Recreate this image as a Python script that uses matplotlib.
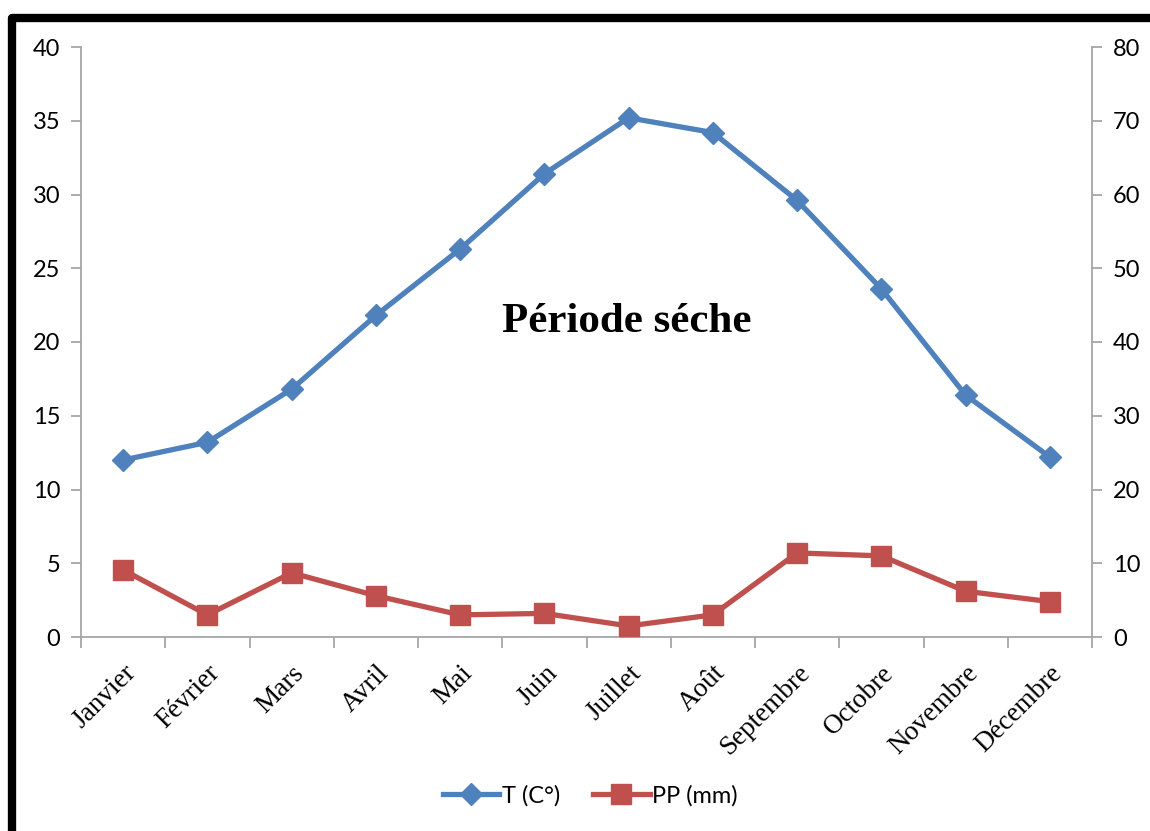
import matplotlib.pyplot as plt
import numpy as np
from matplotlib.lines import Line2D

mois = ['Janvier', 'Février', 'Mars', 'Avril', 'Mai', 'Juin', 'Juillet',
        'Août', 'Septembre', 'Octobre', 'Novembre', 'Décembre']
temp = [12.0, 13.2, 16.8, 21.8, 26.3, 31.4, 35.2, 34.2, 29.6, 23.6, 16.4, 12.2]
pluie = [9.1, 3.0, 8.7, 5.6, 3.0, 3.2, 1.5, 3.0, 11.4, 11.0, 6.2, 4.8]

blue = '#4F81BD'
red = '#C0504D'
grey = '#A6A6A6'

fig = plt.figure(figsize=(11.5, 8.31), dpi=100)
ax = fig.add_axes([81/1150, 1 - 637/831, (1092-81)/1150, (637-47)/831])
ax2 = ax.twinx()

x = np.arange(len(mois))
ax.plot(x, temp, color=blue, lw=3.8, marker='D', markersize=11, zorder=3)
ax2.plot(x, pluie, color=red, lw=3.8, marker='s', markersize=14, zorder=3)

ax.set_xlim(-0.5, 11.5)
ax.set_ylim(0, 40)
ax2.set_ylim(0, 80)
ax.set_yticks(np.arange(0, 41, 5))
ax2.set_yticks(np.arange(0, 81, 10))

# category labels between boundary ticks
ax.set_xticks(x)
ax.set_xticklabels(mois, rotation=45, ha='right', va='top', rotation_mode='anchor',
                   family='Liberation Serif', fontsize=19.5)
ax.tick_params(axis='x', length=0, pad=17)
ax.set_xticks(np.arange(-0.5, 12, 1), minor=True)
ax.tick_params(axis='x', which='minor', length=8, color=grey, width=1.3)

for a in (ax, ax2):
    for s in a.spines.values():
        s.set_visible(False)
ax.spines['left'].set_visible(True)
ax.spines['bottom'].set_visible(True)
ax2.spines['right'].set_visible(True)
for s in (ax.spines['left'], ax.spines['bottom'], ax2.spines['right']):
    s.set_color(grey)
    s.set_linewidth(1.3)

ax.tick_params(axis='y', length=7, color=grey, width=1.3, labelsize=17, pad=8)
ax2.tick_params(axis='y', length=7, color=grey, width=1.3, labelsize=17, pad=8)
for lab in ax.get_yticklabels() + ax2.get_yticklabels():
    lab.set_family('Lato')

fig.text(627/1150, 1 - 322/831, 'Période séche', family='Liberation Serif',
         fontweight='bold', fontsize=31, ha='center', va='center')

handles = [Line2D([], [], color=blue, lw=3.8, marker='D', markersize=11),
           Line2D([], [], color=red, lw=3.8, marker='s', markersize=14)]
fig.legend(handles, ['T (C°)', 'PP (mm)'], loc='center', bbox_to_anchor=(590/1150, 1 - 796/831),
           ncol=2, frameon=False, prop={'family': 'Lato', 'size': 17},
           handlelength=2.4, handletextpad=0.1, columnspacing=1.4)

# thick black frame (top and left)
frame = Line2D([12/1150, 12/1150, 1.0], [0.0, 1 - 18/831, 1 - 18/831],
               transform=fig.transFigure, color='black', lw=6,
               solid_joinstyle='round')
fig.add_artist(frame)

fig.savefig('out.png', dpi=100)
